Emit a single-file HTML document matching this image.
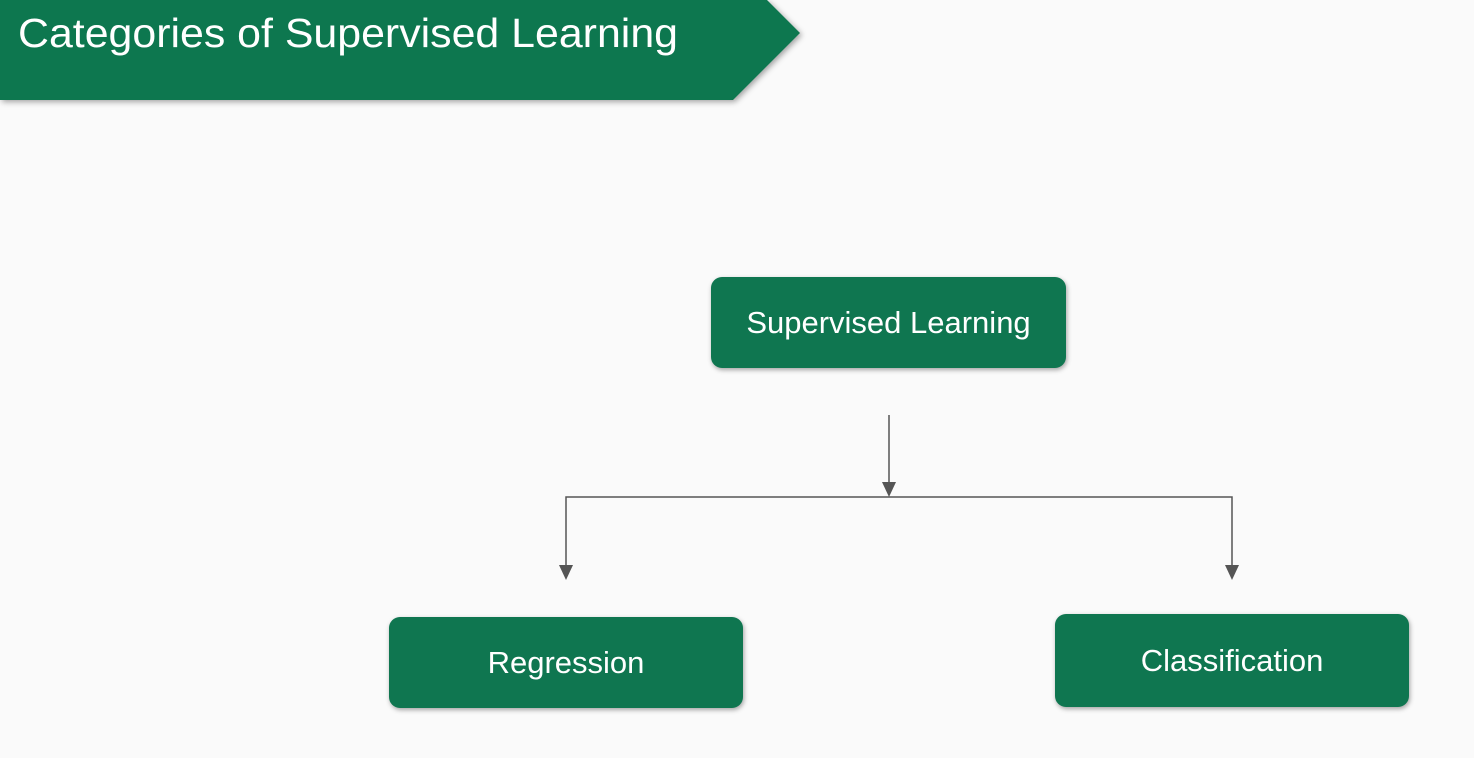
<!DOCTYPE html>
<html><head><meta charset="utf-8"><style>
body{margin:0;width:1474px;height:758px;background:#fafafa;position:relative;overflow:hidden;font-family:"Liberation Sans",sans-serif}
.box{position:absolute;background:#0f7650;color:#fff;border-radius:11px;display:flex;align-items:center;justify-content:center;font-size:31px;box-shadow:1px 2px 5px rgba(0,0,0,.35)}
</style></head><body>
<svg width="1474" height="758" style="position:absolute;left:0;top:0">
<defs><filter id="s"><feDropShadow dx="2" dy="2" stdDeviation="3" flood-opacity="0.35"/></filter></defs>
<polygon points="0,0 767,0 800,33 733,100 0,100" fill="#10774f" filter="url(#s)"/>
<text x="18" y="47" fill="#fff" font-size="41" textLength="660" lengthAdjust="spacingAndGlyphs" font-family="Liberation Sans, sans-serif">Categories of Supervised Learning</text>
<g stroke="#555" stroke-width="1.5" fill="none">
<line x1="889" y1="415" x2="889" y2="485"/>
<polyline points="566,570 566,497 1232,497 1232,568"/>
</g>
<g fill="#555">
<polygon points="882,482 896,482 889,497"/>
<polygon points="559,565 573,565 566,580"/>
<polygon points="1225,565 1239,565 1232,580"/>
</g>
</svg>
<div class="box" style="left:711px;top:277px;width:355px;height:91px">Supervised Learning</div>
<div class="box" style="left:389px;top:617px;width:354px;height:91px">Regression</div>
<div class="box" style="left:1055px;top:614px;width:354px;height:93px">Classification</div>
</body></html>
